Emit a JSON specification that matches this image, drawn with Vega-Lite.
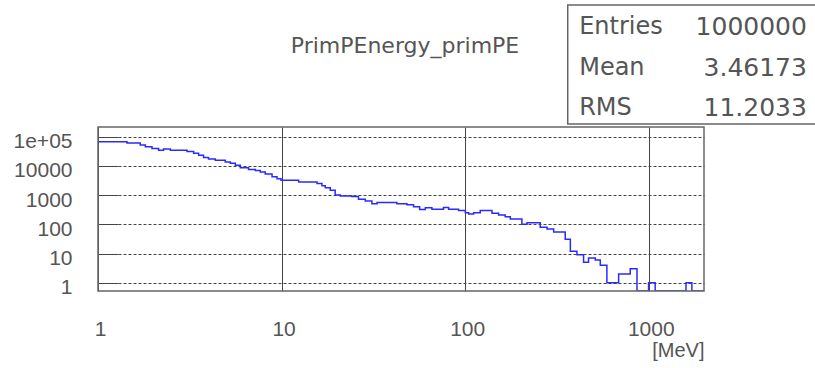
{
  "$schema": "https://vega.github.io/schema/vega-lite/v6.json",
  "width": 606,
  "height": 164,
  "autosize": "none",
  "padding": {"left": 98, "top": 127, "right": 111, "bottom": 77},
  "background": "white",
  "config": {
    "view": {"stroke": null},
    "font": "DejaVu Sans"
  },
  "title": {
    "text": "PrimPEnergy_primPE",
    "frame": "group",
    "anchor": "middle",
    "orient": "top",
    "offset": -64,
    "dx": 4,
    "baseline": "middle",
    "fontSize": 22,
    "font": "DejaVu Sans",
    "fontWeight": "normal",
    "color": "#555"
  },
  "layer": [
    {
      "layer": [
        {
          "data": {
            "values": [
              {"e": 1, "n": 67600}, {"e": 1.439, "n": 60300}, {"e": 1.698, "n": 52500}, {"e": 1.811, "n": 45700},
              {"e": 1.968, "n": 39800}, {"e": 2.138, "n": 34700}, {"e": 2.275, "n": 38000}, {"e": 2.477, "n": 34700},
              {"e": 3.055, "n": 30900}, {"e": 3.319, "n": 26900}, {"e": 3.532, "n": 23400}, {"e": 3.758, "n": 19500},
              {"e": 4.0, "n": 17400}, {"e": 4.355, "n": 15500}, {"e": 4.932, "n": 13500}, {"e": 5.26, "n": 12300},
              {"e": 5.598, "n": 10500}, {"e": 5.957, "n": 8710}, {"e": 6.607, "n": 7590}, {"e": 7.194, "n": 6920},
              {"e": 7.656, "n": 6170}, {"e": 8.147, "n": 5250}, {"e": 8.872, "n": 4270}, {"e": 9.441, "n": 3630},
              {"e": 9.931, "n": 3240}, {"e": 12.39, "n": 2820}, {"e": 15.6, "n": 2510}, {"e": 16.6, "n": 2090},
              {"e": 17.3, "n": 1780}, {"e": 18.41, "n": 1480}, {"e": 19.59, "n": 1000}, {"e": 20.89, "n": 933},
              {"e": 24.15, "n": 891}, {"e": 26.24, "n": 724}, {"e": 28.58, "n": 631}, {"e": 31.05, "n": 501},
              {"e": 33.11, "n": 562}, {"e": 42.46, "n": 501}, {"e": 48.19, "n": 468}, {"e": 52.36, "n": 398},
              {"e": 56.49, "n": 324}, {"e": 60.67, "n": 372}, {"e": 65.92, "n": 331}, {"e": 76.21, "n": 380},
              {"e": 81.28, "n": 331}, {"e": 92.04, "n": 295}, {"e": 100.2, "n": 251}, {"e": 104.5, "n": 224},
              {"e": 111.2, "n": 251}, {"e": 120.8, "n": 295}, {"e": 140, "n": 240}, {"e": 152.1, "n": 209},
              {"e": 165.2, "n": 182}, {"e": 176.2, "n": 151}, {"e": 203.7, "n": 100}, {"e": 217.3, "n": 112},
              {"e": 256.4, "n": 79}, {"e": 279.3, "n": 69}, {"e": 303.4, "n": 54}, {"e": 350.8, "n": 31},
              {"e": 374.1, "n": 12}, {"e": 406.4, "n": 9}, {"e": 441.6, "n": 5}, {"e": 469.9, "n": 7},
              {"e": 511.7, "n": 6}, {"e": 544.5, "n": 4}, {"e": 591.6, "n": 1}, {"e": 685.5, "n": 2},
              {"e": 792.5, "n": 3}, {"e": 863, "n": 0}, {"e": 997.7, "n": 1}, {"e": 1084, "n": 0},
              {"e": 1596, "n": 1}, {"e": 1718, "n": 0}, {"e": 2000, "n": 0}
            ]
          },
          "mark": {"type": "line", "interpolate": "step-after", "color": "#2a2aff", "strokeWidth": 1.5, "clip": true},
          "encoding": {
            "x": {
              "field": "e", "type": "quantitative",
              "scale": {"type": "log", "domain": [1, 2000], "nice": false},
              "axis": {
                "values": [1, 10, 100, 1000], "format": "d",
                "grid": true, "gridColor": "#444", "gridWidth": 1, "gridOpacity": 1,
                "ticks": false, "domain": false,
                "labelFont": "Liberation Sans", "labelFontSize": 21, "labelColor": "#555",
                "labelPadding": 38, "labelBaseline": "middle", "labelFlush": false, "labelOffset": 2,
                "title": "[MeV]", "titleFont": "Liberation Sans", "titleFontWeight": "normal",
                "titleAnchor": "end", "titleFontSize": 20, "titleColor": "#555", "titlePadding": 1
              }
            },
            "y": {
              "field": "n", "type": "quantitative",
              "scale": {"type": "log", "domain": [0.52, 215000], "nice": false, "clamp": true},
              "axis": {
                "values": [1, 10, 100, 1000, 10000, 100000],
                "labelExpr": "datum.value >= 100000 ? '1e+05' : format(datum.value, 'd')",
                "grid": true, "gridColor": "#444", "gridWidth": 1, "gridDash": [3, 2], "gridOpacity": 1,
                "ticks": true, "tickSize": -20, "tickColor": "#444", "tickWidth": 1,
                "domain": false,
                "labelFont": "Liberation Sans", "labelFontSize": 21, "labelColor": "#555",
                "labelPadding": 46, "labelBaseline": "middle", "labelFlush": false, "labelOffset": 5,
                "title": null
              }
            }
          }
        },
        {
          "data": {"values": [{}]},
          "mark": {"type": "rect", "fill": null, "stroke": "#666", "strokeWidth": 1.5},
          "encoding": {
            "x": {"datum": 1, "type": "quantitative"},
            "x2": {"datum": 2000},
            "y": {"datum": 0.52, "type": "quantitative"},
            "y2": {"datum": 215000}
          }
        }
      ]
    },
    {
      "layer": [
        {
          "data": {"values": [{}]},
          "mark": {"type": "rect", "fill": "white", "stroke": "#666", "strokeWidth": 1.5},
          "encoding": {
            "x": {"datum": 362, "type": "quantitative", "scale": {"type": "log", "domain": [1, 2000], "nice": false}},
            "x2": {"datum": 100000},
            "y": {"datum": 0, "type": "quantitative", "scale": {"domain": [0, 3], "range": [-122, -3], "nice": false, "zero": false}, "axis": null},
            "y2": {"datum": 3}
          }
        },
        {
          "data": {
            "values": [
              {"stat": "Entries", "value": "1000000"},
              {"stat": "Mean", "value": "3.46173"},
              {"stat": "RMS", "value": "11.2033"}
            ]
          },
          "encoding": {
            "y": {"field": "stat", "type": "nominal", "scale": {"domain": ["Entries", "Mean", "RMS"], "range": [-100, -19], "padding": 0}, "axis": null}
          },
          "layer": [
            {
              "mark": {"type": "text", "align": "left", "baseline": "middle", "fontSize": 24, "font": "DejaVu Sans", "color": "#555"},
              "encoding": {
                "x": {"datum": 418, "type": "quantitative", "scale": {"type": "log", "domain": [1, 2000], "nice": false}},
                "text": {"field": "stat"}
              }
            },
            {
              "mark": {"type": "text", "align": "right", "baseline": "middle", "fontSize": 25, "font": "DejaVu Sans", "color": "#555"},
              "encoding": {
                "x": {"datum": 7272, "type": "quantitative", "scale": {"type": "log", "domain": [1, 2000], "nice": false}},
                "text": {"field": "value"}
              }
            }
          ]
        }
      ],
      "resolve": {"scale": {"y": "independent"}}
    }
  ],
  "resolve": {"scale": {"y": "independent"}}
}
